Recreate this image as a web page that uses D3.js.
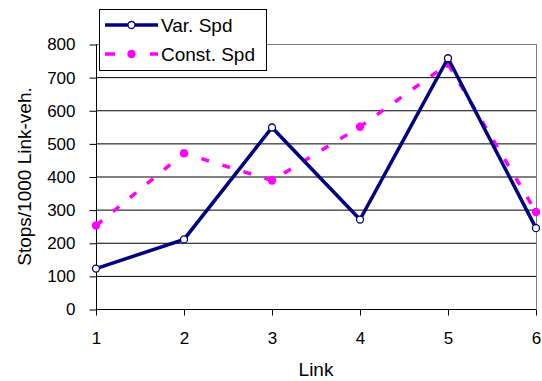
<!DOCTYPE html>
<html>
<head>
	<meta charset='utf-8'>
	<script src="https://cdnjs.cloudflare.com/ajax/libs/d3/7.8.5/d3.min.js"></script>
	<style>
	body { margin:0; background:#fff; font-family:"Liberation Sans", Arial, sans-serif; }
	</style>
</head>
<body>
	<script>
	var links = [1, 2, 3, 4, 5, 6];
	var varSpd = [122, 210, 548, 270, 757, 244];
	var constSpd = [252, 470, 388, 550, 740, 293];
	var yTicks = [0, 100, 200, 300, 400, 500, 600, 700, 800];

	var width = 542, height = 381;
	var margin = {top: 44, right: 6, bottom: 72, left: 96};

	var svg = d3.select('body').append('svg').attr('width', width).attr('height', height);

	var x = d3.scaleLinear().domain([1, 6]).range([margin.left, width - margin.right]);
	var y = d3.scaleLinear().domain([0, 800]).range([height - margin.bottom, margin.top]);

	// grid lines
	svg.append('g').selectAll('line').data(yTicks.slice(1)).enter().append('line')
		.attr('x1', x(1)).attr('x2', x(6))
		.attr('y1', function (d) { return y(d) + 0.5; }).attr('y2', function (d) { return y(d) + 0.5; })
		.attr('stroke', function (d) { return d == 800 ? '#808080' : '#000'; })
		.attr('stroke-width', 1);

	// right border
	svg.append('line').attr('x1', x(6) + 0.5).attr('x2', x(6) + 0.5)
		.attr('y1', y(800)).attr('y2', y(0)).attr('stroke', '#808080');

	var yAxis = svg.append('g').attr('transform', 'translate(' + (x(1) + 0.5) + ',0.5)')
		.call(d3.axisLeft(y).tickValues(yTicks).tickSize(7).tickPadding(14));
	var xAxis = svg.append('g').attr('transform', 'translate(0,' + (y(0) + 0.5) + ')')
		.call(d3.axisBottom(x).tickValues(links).tickSize(6).tickPadding(16).tickFormat(d3.format('d')));

	[yAxis, xAxis].forEach(function (a) {
		a.select('.domain').attr('stroke', '#000');
		a.selectAll('.tick line').attr('stroke', '#000');
		a.selectAll('text').attr('font-family', '"Liberation Sans", Arial, sans-serif')
			.attr('font-size', 17).attr('fill', '#000');
	});
	yAxis.select('.domain').attr('d', 'M0,' + y(800) + 'V' + y(0));
	xAxis.select('.domain').attr('d', 'M' + x(1) + ',0H' + x(6));

	// titles
	svg.append('text').attr('x', (x(1) + x(6)) / 2).attr('y', 376)
		.attr('text-anchor', 'middle').attr('font-size', 19).text('Link');
	svg.append('text').attr('transform', 'translate(31,' + ((y(0) + y(800)) / 2) + ') rotate(-90)')
		.attr('text-anchor', 'middle').attr('font-size', 19).text('Stops/1000 Link-veh.');

	var line = d3.line().x(function (d, i) { return x(links[i]); }).y(function (d) { return y(d); });

	// Const. Spd
	svg.append('path').datum(constSpd).attr('d', line)
		.attr('fill', 'none').attr('stroke', '#ff00ff').attr('stroke-width', 3.5)
		.attr('stroke-dasharray', '8,14');
	svg.append('g').selectAll('circle').data(constSpd).enter().append('circle')
		.attr('cx', function (d, i) { return x(links[i]); }).attr('cy', function (d) { return y(d); })
		.attr('r', 4.2).attr('fill', '#ff00ff');

	// Var. Spd
	svg.append('path').datum(varSpd).attr('d', line)
		.attr('fill', 'none').attr('stroke', '#000080').attr('stroke-width', 3.5);
	svg.append('g').selectAll('circle').data(varSpd).enter().append('circle')
		.attr('cx', function (d, i) { return x(links[i]); }).attr('cy', function (d) { return y(d); })
		.attr('r', 3.5).attr('fill', '#fff').attr('stroke', '#000080').attr('stroke-width', 1.3);

	// legend
	var legend = svg.append('g');
	legend.append('rect').attr('x', 99.5).attr('y', 9.5).attr('width', 167).attr('height', 61)
		.attr('fill', '#fff').attr('stroke', '#000');
	var items = [
		{name: 'Var. Spd', color: '#000080', dash: null, fill: '#fff', r: 3.5},
		{name: 'Const. Spd', color: '#ff00ff', dash: '10,35', fill: '#ff00ff', r: 4.2}
	];
	items.forEach(function (it, i) {
		var ly = 25 + i * 29;
		legend.append('line').attr('x1', 105).attr('x2', 158).attr('y1', ly).attr('y2', ly)
			.attr('stroke', it.color).attr('stroke-width', 3.5).attr('stroke-dasharray', it.dash);
		legend.append('circle').attr('cx', 131.5).attr('cy', ly).attr('r', it.r)
			.attr('fill', it.fill).attr('stroke', i == 0 ? it.color : 'none').attr('stroke-width', 1.3);
		legend.append('text').attr('x', 161).attr('y', ly + 7).attr('font-size', 19).text(it.name);
	});
	</script>
</body>
</html>
